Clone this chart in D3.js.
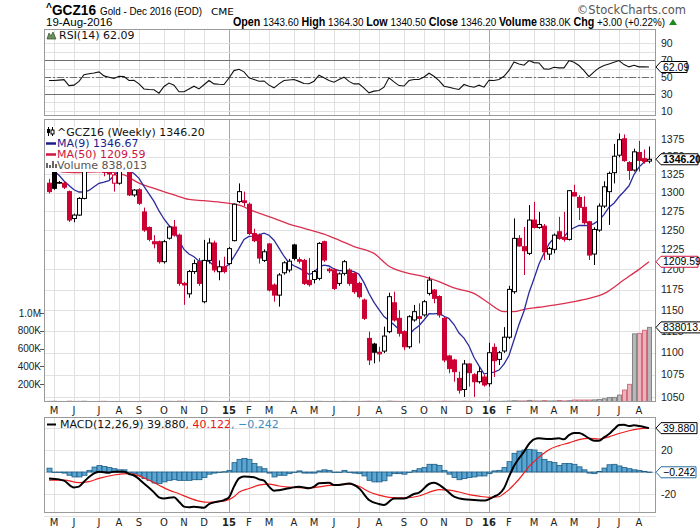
<!DOCTYPE html>
<html><head><meta charset="utf-8">
<script src="https://cdn.jsdelivr.net/npm/d3@7/dist/d3.min.js"></script>
<style>
html,body{margin:0;padding:0;background:#fff;}
svg{display:block;}
</style></head>
<body>
<svg id="chart" width="700" height="530"></svg>
<script>
// ---------------- DATA ----------------
const startWeek = "2014-04-28"; // first weekly bar (Monday)
const opens = [
1313,1329,1313,1313,1301.5,1265.5,1270,1292.3,1336,1342,
1346,1331,1332,1313,1313,1333,1330,1297,1304,1274.2,
1253.7,1235.2,1235.2,1209.7,1239.7,1254.3,1243.7,1182.6,1169.8,1197.3,
1209.7,1160.2,1211.3,1233.5,1197.1,1203.3,1207.3,1236.6,1288,1289,
1284.5,1245.8,1243.7,1211.3,1232.3,1180.6,1168.2,1195.8,1199.3,1231,
1212.3,1211.3,1186.4,1187.4,1188.8,1235.2,1200.3,1199.2,1182.6,1195,
1199.2,1195,1182.6,1162.2,1116.6,1110,1100.6,1101.9,1124.5,1158.9,
1140.2,1124.5,1106.9,1138.3,1142.2,1144.3,1170.3,1174.4,1166.5,1140.2,
1096.3,1091.7,1071,1058.6,1087.2,1075,1067.2,1072.5,1065,1106.2,
1092.4,1102,1118,1172.4,1239.5,1228.8,1220.2,1263.4,1253.7,1255.4,
1219.3,1225.4,1248.1,1240.7,1238.2,1300.1,1293.6,1280.3,1261.2,1219.4,
1250.3,1282,1301.5,1327.5,1352,1375.3,1341.6,1331.1,1355.8,1347,
1343.6];
const highs = [
1319,1330,1316,1315,1303,1272,1294,1336,1348,1352,
1358,1336,1333,1327,1333,1337,1332,1305,1306,1280,
1255,1243.7,1236.6,1237.6,1256,1263.5,1245.7,1184.5,1199.3,1212.3,
1214.3,1237.6,1239.7,1236.6,1211.3,1216,1228.4,1285.5,1312.7,1301.5,
1286.7,1252,1245.8,1225.4,1233.5,1182.6,1195.4,1210.3,1213.3,1232.5,
1215.3,1213.3,1214.3,1199.3,1234.6,1236.6,1202.3,1201.3,1196.3,1211.8,
1201.3,1196.4,1184.5,1164.1,1124.5,1111.5,1106.9,1130.4,1171.1,1172.4,
1150.1,1126.1,1144,1156.3,1158.3,1162.3,1190.9,1175.7,1168,1142,
1097.7,1093.1,1078.5,1091.7,1088.1,1076.8,1083.6,1075.2,1111.6,1110.8,
1102.1,1129.8,1179.6,1265.6,1243.7,1254.3,1283.3,1287.8,1274.3,1258.2,
1228.5,1245.8,1267.7,1274.3,1303.6,1310.8,1296.6,1295.2,1262.4,1254,
1285.6,1315.7,1329,1368,1383,1381.6,1343.5,1361.2,1372.4,1360,
1364.3];
const lows = [
1299,1304,1312,1305,1261,1260.5,1269,1291,1335,1337,
1338,1322.5,1316,1301.5,1311,1329,1295.5,1294.5,1283.5,1248,
1235.7,1226.6,1207.3,1207.3,1238,1241.7,1179.6,1156.4,1165,1194.4,
1179.6,1158.3,1207.3,1196.3,1186.5,1195,1205.3,1235.6,1286,1281.5,
1243.7,1234.6,1207.3,1209.3,1172.8,1160.2,1154.2,1193.4,1196.3,1211.3,
1207.3,1180.6,1178.6,1182.6,1186.4,1209.3,1195.4,1174.4,1179.6,1192.4,
1179.6,1169.8,1164.1,1138.3,1085.9,1087.9,1089.8,1099.6,1122.6,1136.4,
1118.7,1103,1104.7,1136.3,1110.8,1142.2,1167.8,1158.3,1141.1,1089.2,
1076.6,1067.2,1054,1050.4,1061.8,1050.4,1065.2,1061.8,1061.8,1072.5,
1086,1099.8,1116,1169.8,1228.8,1193,1218.1,1252.4,1252,1211.8,
1211.8,1220.3,1237.7,1235.2,1236.7,1294.8,1263.4,1257.4,1211.8,1205.5,
1248,1279.4,1257,1312.7,1349,1342.7,1317.5,1329,1329,1340,
1340.5];
const closes = [
1301.5,1306,1314,1307.5,1263.5,1270,1292.3,1331,1342,1346,
1350,1328,1325.7,1324.3,1331,1331.5,1297,1303.6,1285.7,1250.3,
1238.2,1232.5,1209.7,1235.2,1254.3,1243.7,1182.6,1180.6,1197.3,1207.3,
1182.6,1211.3,1233.5,1199.3,1203.3,1197.3,1226.3,1284.5,1301.5,1286.7,
1245.8,1236.6,1214.3,1222.3,1174.4,1168.2,1193,1208.3,1210.3,1213.9,
1210.3,1182.6,1181,1197.3,1233,1211.8,1198.3,1176.4,1194.4,1209.7,
1182.6,1172.4,1166.3,1140.2,1091.7,1100.6,1098.7,1119.3,1166.3,1138.2,
1122.6,1106.9,1142.2,1148.2,1140.2,1160.2,1186.7,1164.3,1144.3,1091.7,
1081.9,1078.5,1057.8,1087.2,1077.3,1067.2,1078.5,1063.6,1100,1091,
1100,1118,1175.2,1239.5,1229.7,1223.6,1263.4,1253.7,1257.6,1222.3,
1226.6,1243.7,1239.5,1238.2,1302.8,1295.6,1280.3,1260,1218.1,1251.1,
1282,1308.1,1326.5,1350.5,1374,1344.3,1330.5,1356.7,1344.6,1343.2,
1346.2];
const volumes = [
4000,5200,3100,2800,6100,3500,4200,5600,3000,2600,
3900,4800,2500,3100,2900,0,3300,2700,3600,5100,
4400,3800,4100,3900,4500,3700,6200,4800,3900,3500,
4100,5200,4300,3600,2400,2100,3900,5400,4600,3300,
5000,3800,3500,3100,4800,4200,4400,3600,3000,3700,
2900,3900,3200,3500,4600,3400,3000,3800,3300,4100,
3700,3300,3500,4500,6000,4200,3600,4400,6800,5200,
4100,3700,4600,3900,3700,4200,5100,4000,4800,6500,
5300,4700,4500,6200,5000,4400,3300,3600,6100,5400,
4500,5600,7800,11000,9000,8800,15000,9500,8300,13000,
8700,9300,14000,9000,12000,19000,19000,19500,19000,21000,
25000,34000,48000,49000,75000,132000,196000,765000,770000,805000,
838013];
// MA(9) values for the first 8 weeks (need earlier history)
const ma9Head = [1333,1330,1324,1316,1310,1304,1301,1301];
// MA(50): [week index, value]
const ma50 = [[0,1331],[5,1327.5],[11,1329],[15,1324.5],[18,1313],[21,1306],[25,1297],[28,1291],
[31,1289.2],[35,1286.5],[38,1283.3],[41,1275],[45,1265.6],[48,1258.1],[51,1252.5],[55,1245],
[58,1237.3],[61,1229],[65,1220.2],[68,1204],[71,1196.5],[75,1190.9],[78,1184.7],[81,1177],
[85,1170.3],[88,1158.3],[91,1148.2],[93,1148.2],[95,1151],[98,1153.5],[101,1156],[105,1160.2],
[108,1164.2],[111,1170],[115,1187],[118,1200],[120,1209.59]];
const rsi = [
46,46,46.5,47,40,40.5,45,53,54,55,
56.3,51.5,50,48.4,51,50.7,46,46.4,42.1,36,
35.4,35,31,39,43,40.5,32.6,32.6,36,39.3,
36,41,46,42,41.5,41.3,49,57.8,59.4,56.3,
49.2,47.2,45.2,45.5,40.5,37.3,42,46,46.6,47.2,
45,42.5,42.1,45.2,52.3,49.2,46,44,47.2,50,
45,42,42,37,31.4,33.4,34.2,38.1,49.2,44.4,
40,39.5,46,47.2,47.2,50.3,54.7,51.1,46,39.3,
38,36.5,35.4,41.3,39.3,38.1,40.5,38.1,46.4,46,
47.2,51.1,58,68,65.7,64.2,69.7,67.3,66.9,59.8,
59.4,61.8,61,61,69.7,67.7,63.8,57.8,50.7,56.3,
61,63.8,65.7,67.7,69.7,64.9,62.2,64.2,62.2,62.2,
62.09];
const macdLine = [[0,-5.8],[2,-6.7],[3,-7.9],[5,-14],[6,-13.3],[7,-8.8],[9,-1.2],[10,0.3],[12,-0.6],
[13,0.3],[15,0.3],[16,-1.8],[17,-3.2],[19,-10.5],[21,-18.5],[22,-23],[23,-24],[25,-23],[26,-27],
[27,-31.5],[28,-32.1],[29,-31.5],[31,-32.4],[32,-29.1],[33,-27.6],[35,-25.5],[36,-23],[37,-13.3],
[38,-5.8],[39,-4.2],[41,-4.8],[42,-6.7],[43,-7.9],[44,-13.3],[45,-17],[46,-16.5],[48,-14.8],
[50,-13.3],[52,-14.8],[53,-13.3],[54,-10.3],[56,-9.7],[57,-11.8],[58,-11.8],[60,-10.5],[62,-14.8],
[64,-25.4],[66,-29.1],[67,-30],[69,-24],[71,-24],[73,-20],[74,-18.8],[76,-10.9],[77,-9.7],
[79,-14.8],[81,-22.4],[83,-24.8],[85,-25.4],[87,-26],[89,-22.4],[90,-20],[91,-14.8],[92,-4.2],
[93,5.5],[94,12.4],[95,18.5],[96,25.5],[97,29.7],[98,30.6],[100,30],[102,30.6],[103,29.7],
[104,33.6],[105,35.5],[106,35.5],[107,33.5],[108,30.6],[109,28.5],[110,28.5],[111,31.5],
[112,34.5],[113,38.8],[114,42.7],[115,43],[116,41.8],[117,42.4],[118,41.8],[120,39.88]];
const signalLine = [[0,-7.3],[3,-7.3],[6,-9.6],[8,-8.8],[10,-5.8],[13,-2.7],[16,-1.4],[18,-3.5],
[20,-7.5],[22,-12],[24,-16.5],[26,-19.8],[28,-23.5],[30,-26.4],[32,-27.5],[35,-26.5],[37,-22.5],
[38,-18.5],[40,-15],[42,-12],[44,-11],[46,-12.7],[48,-13.8],[52,-14.5],[56,-12.2],[60,-11],
[62,-13],[64,-17.9],[66,-21],[68,-23],[71,-23.5],[74,-21.8],[76,-18.5],[78,-16],[80,-16.5],
[82,-18.2],[84,-20.5],[86,-22],[88,-23],[90,-22.5],[91,-19.5],[92,-16],[93,-11.5],[94,-6.6],
[96,4.9],[98,13.5],[100,20.3],[102,24],[104,26.5],[106,29.5],[108,30.6],[110,30],[112,32],
[114,35],[116,37.5],[118,39.2],[120,40.122]];
const macdHist = [
3.5,-0.5,-0.5,-1,-3,-4.5,-4.5,-3,1.5,4.5,
6,5,4,3,2,2,0,-1.5,-3,-6,
-7.6,-10,-10.6,-9,-7.6,-7,-7.6,-7.6,-7.6,-7,
-7,-5,-2,-1,0,0.3,1.5,8.5,11.5,12.4,
11.5,7.7,4.7,3,-1,-4.5,-3,-3,-1.5,0,
1,-1,-1,-1,1,2,1.5,0,0,1.5,
0,-1,-1.5,-3.6,-7.6,-9,-9,-8,-3.6,-1.5,
-1.5,-2,0,1.5,3,4,7,7,6,1.5,
-2,-5,-7,-6,-5,-4.5,-3.6,-3.6,-1.5,1,
1.5,4,9.4,17,19,20,20.6,20,17.6,11.5,
9.4,8.5,6,7.7,7.7,7,4.7,2,-1,-1.5,
0.5,3.6,6.6,7,5.5,4,3,2,1.5,0.5,
-0.242];
const monthLetters = ["J","F","M","A","M","J","J","A","S","O","N","D"];
const priceTicks = [1050,1075,1100,1125,1150,1175,1200,1225,1250,1275,1300,1325,1350,1375];
const volTicks = [200000,400000,600000,800000,1000000];
const volTickLabels = ["200K","400K","600K","800K","1.0M"];
const rsiTicks = [10,20,30,40,50,60,70,80,90];
const rsiLabels = [10,30,50,70,90];
const macdTicks = [-40,-20,0,20,40];
const macdLabels = [-20,20];

// ---------------- LAYOUT ----------------
const svg = d3.select("#chart");
const FV = '"DejaVu Sans", Verdana, sans-serif';
const FA = '"Liberation Sans", Arial, sans-serif';
const RED = "#cc0033";
const n = closes.length;
const t0 = d3.timeParse("%Y-%m-%d")(startWeek);
const dates = d3.range(n).map(i => d3.timeDay.offset(t0, 7 * i));

const L = 44, R = 656;
const rsiP = [29, 116], mainP = [119, 402], macdP = [417, 513];

const x = d3.scaleLinear().domain([-1, 121.4]).range([L, R]);
const X = i => Math.round(x(i)) + 0.5;
const yP = d3.scaleLog().domain([1050, 1375]).range([397.3, 139]);
const yV = d3.scaleLinear().domain([0, 1e6]).range([401.75, 313]);
const yR = d3.scaleLinear().domain([30, 70]).range([94, 60.33]);
const yM = d3.scaleLinear().domain([-20, 20]).range([494, 450]);

const monthStarts = [];
for (let i = 1; i < n; i++) if (dates[i].getMonth() !== dates[i - 1].getMonth()) monthStarts.push(i);

const defs = svg.append("defs");
function clip(id, top, bot, right) {
  defs.append("clipPath").attr("id", id).append("rect")
    .attr("x", L).attr("y", top).attr("width", (right || R) - L).attr("height", bot - top);
  return "url(#" + id + ")";
}
const clipR = clip("cr", rsiP[0], rsiP[1]);
const clipM = clip("cm", mainP[0], mainP[1]);
const clipD = clip("cd", macdP[0], macdP[1]);

function vgrid(g, top, bot) {
  monthStarts.forEach(i => {
    const yr = dates[i].getMonth() === 0;
    g.append("line").attr("x1", X(i)).attr("x2", X(i)).attr("y1", top).attr("y2", bot)
      .attr("stroke", yr ? "#a8a8a8" : "#e1e1e1").attr("stroke-width", 1);
  });
}
function hgrid(g, vals, sc, color) {
  vals.forEach(v => {
    const yy = Math.round(sc(v)) + 0.5;
    g.append("line").attr("x1", L).attr("x2", R).attr("y1", yy).attr("y2", yy)
      .attr("stroke", color || "#e1e1e1");
  });
}
function frame(top, bot) {
  svg.append("rect").attr("x", L + 0.5).attr("y", top + 0.5).attr("width", R - L - 1)
    .attr("height", bot - top - 1).attr("fill", "none").attr("stroke", "#9a9a9a");
}
function tag(yc, label, stroke, bold, tcol, xr) {
  const g = svg.append("g");
  const t = g.append("text").attr("x", 663).attr("y", yc).attr("dy", "0.35em")
    .attr("font-family", FA).attr("font-size", 10.5).attr("font-weight", bold ? "bold" : "normal")
    .attr("fill", tcol || "#000").text(label);
  const w = t.node().getComputedTextLength();
  const x2 = xr || (663 + w + 2);
  g.insert("path", "text").attr("d",
    `M${R},${yc}L${R + 5},${yc - 5.5}H${x2}V${yc + 5.5}H${R + 5}Z`)
    .attr("fill", "#fff").attr("stroke", stroke).attr("stroke-width", 1);
}

// ---------------- HEADER ----------------
svg.append("text").attr("x", 46).attr("y", 11).attr("font-family", FA).attr("font-size", 10)
  .attr("font-weight", "bold").text("^");
svg.append("text").attr("x", 52).attr("y", 15).attr("font-family", FA).attr("font-size", 15)
  .attr("font-weight", "bold").attr("textLength", 44).attr("lengthAdjust", "spacingAndGlyphs").text("GCZ16");
svg.append("text").attr("x", 100).attr("y", 15).attr("font-family", FA).attr("font-size", 10)
  .attr("textLength", 102).attr("lengthAdjust", "spacingAndGlyphs").text("Gold - Dec 2016 (EOD)");
svg.append("text").attr("x", 211).attr("y", 15).attr("font-family", FV).attr("font-size", 9)
  .attr("textLength", 23).attr("lengthAdjust", "spacingAndGlyphs").text("CME");
svg.append("text").attr("x", 686).attr("y", 14).attr("text-anchor", "end").attr("font-family", FV)
  .attr("font-size", 11.5).attr("fill", "#555").text("©StockCharts.com");
svg.append("text").attr("x", 46).attr("y", 26).attr("font-family", FA).attr("font-size", 11.5)
  .text("19-Aug-2016");
const hdr = svg.append("text").attr("x", 233).attr("y", 26).attr("font-family", FA).attr("font-size", 11.5)
  .attr("textLength", 432).attr("lengthAdjust", "spacingAndGlyphs");
[["Open", 1], [" 1343.60 ", 0], ["High", 1], [" 1364.30 ", 0], ["Low", 1], [" 1340.50 ", 0],
 ["Close", 1], [" 1346.20 ", 0], ["Volume", 1], [" 838.0K ", 0], ["Chg", 1], [" +3.00 (+0.22%)", 0]]
  .forEach(([s, b]) => hdr.append("tspan").attr("font-weight", b ? "bold" : "normal")
    .attr("font-size", b ? 12.5 : 11.5).text(s));
svg.append("path").attr("d", "M669,25L673,19L677,25Z").attr("fill", "#1a8a1a");

// ---------------- RSI PANEL ----------------
const gR = svg.append("g");
vgrid(gR, rsiP[0], rsiP[1]);
hgrid(gR, rsiTicks, yR);
[70, 30].forEach(v => gR.append("line").attr("x1", L).attr("x2", R)
  .attr("y1", Math.round(yR(v)) + 0.5).attr("y2", Math.round(yR(v)) + 0.5).attr("stroke", "#707070"));
gR.append("line").attr("x1", L).attr("x2", R).attr("y1", Math.round(yR(50)) + 0.5)
  .attr("y2", Math.round(yR(50)) + 0.5).attr("stroke", "#707070").attr("stroke-dasharray", "7,2,2,2");
svg.append("g").attr("clip-path", clipR).append("path").datum(rsi)
  .attr("d", d3.line().x((d, i) => x(i)).y(d => yR(d)))
  .attr("fill", "none").attr("stroke", "#111").attr("stroke-width", 1.1);
frame(rsiP[0], rsiP[1]);
const rsiLab = svg.append("g");
rsiLabels.forEach(v => rsiLab.append("text").attr("x", 661).attr("y", yR(v)).attr("dy", "0.35em")
  .attr("font-family", FA).attr("font-size", 10.5).attr("fill", "#222").text(v));
// legend
svg.append("path").attr("d", "M47,39L49,33L51,36L53,32L56,39Z").attr("fill", "#6b8f5e").attr("stroke", "#334d2a").attr("stroke-width", 0.7);
svg.append("text").attr("x", 59).attr("y", 39).attr("font-family", FV).attr("font-size", 11)
  .attr("fill", "#111").text("RSI(14) " + d3.format(".2f")(rsi[n - 1]));
tag(yR(rsi[n - 1]), d3.format(".2f")(rsi[n - 1]), "#000", false, "#000", 687);

// ---------------- MAIN PANEL ----------------
const gM = svg.append("g");
vgrid(gM, mainP[0], mainP[1]);
hgrid(gM, priceTicks, yP);
const gMc = svg.append("g").attr("clip-path", clipM);
// volume
gMc.selectAll("rect.vol").data(volumes).join("rect")
  .attr("x", (d, i) => X(i) - 2).attr("width", 4)
  .attr("y", d => yV(d)).attr("height", d => Math.max(0, yV(0) - yV(d)))
  .attr("fill", (d, i) => (i > 0 && closes[i] < closes[i - 1]) ? "#ebb3bb" : "#b8b8b8")
  .attr("stroke", (d, i) => (i > 0 && closes[i] < closes[i - 1]) ? "#d36f80" : "#858585")
  .attr("stroke-width", 1);
// MA lines
const ma9 = closes.map((c, i) => i < 8 ? ma9Head[i] : d3.mean(closes.slice(i - 8, i + 1)));
gMc.append("path").datum(ma50)
  .attr("d", d3.line().x(d => x(d[0])).y(d => yP(d[1])).curve(d3.curveMonotoneX))
  .attr("fill", "none").attr("stroke", "#d9304f").attr("stroke-width", 1.3);
gMc.append("path").datum(ma9)
  .attr("d", d3.line().x((d, i) => x(i)).y(d => yP(d)))
  .attr("fill", "none").attr("stroke", "#2b2b9c").attr("stroke-width", 1.3);
// candles
const candles = gMc.selectAll("g.c").data(closes).join("g");
candles.each(function (c, i) {
  const g = d3.select(this);
  const prev = i > 0 ? closes[i - 1] : opens[i];
  const col = c >= prev ? "#000" : RED;
  const hollow = c >= opens[i];
  const cx = X(i);
  g.append("line").attr("x1", cx).attr("x2", cx).attr("y1", yP(highs[i])).attr("y2", yP(lows[i]))
    .attr("stroke", col).attr("stroke-width", 1);
  const top = yP(Math.max(opens[i], c)), bot = yP(Math.min(opens[i], c));
  g.append("rect").attr("x", cx - 2).attr("width", 4)
    .attr("y", top).attr("height", Math.max(0.6, bot - top))
    .attr("fill", hollow ? "#fff" : col).attr("stroke", col).attr("stroke-width", 1);
});
frame(mainP[0], mainP[1]);
// right price axis
priceTicks.forEach(v => svg.append("text").attr("x", 661).attr("y", yP(v)).attr("dy", "0.35em")
  .attr("font-family", FA).attr("font-size", 10.5).attr("fill", "#222").text(v));
// left volume axis
volTicks.forEach((v, j) => {
  svg.append("line").attr("x1", L - 4).attr("x2", L).attr("y1", Math.round(yV(v)) + 0.5)
    .attr("y2", Math.round(yV(v)) + 0.5).attr("stroke", "#555");
  svg.append("text").attr("x", L - 3).attr("y", yV(v)).attr("dy", "0.35em").attr("text-anchor", "end")
    .attr("font-family", FA).attr("font-size", 10).attr("fill", "#222").text(volTickLabels[j]);
});
// legend (white backgrounds)
const leg = svg.append("g");
function legLine(yb, str, col) {
  const t = leg.append("text").attr("x", 57).attr("y", yb).attr("font-family", FV).attr("font-size", 11)
    .attr("fill", col).text(str);
  const bb = t.node().getBBox();
  leg.insert("rect", "text").attr("x", 45).attr("y", bb.y + 1).attr("width", bb.x + bb.width - 45 + 1)
    .attr("height", bb.height - 1).attr("fill", "#fff");
}
legLine(136, "^GCZ16 (Weekly) " + d3.format(".2f")(closes[n - 1]), "#111");
legLine(147, "MA(9) 1346.67", "#1c1c8c");
legLine(158, "MA(50) " + d3.format(".2f")(ma50[ma50.length - 1][1]), "#cc1540");
legLine(169, "Volume " + d3.format(",")(volumes[n - 1]), "#555");
// legend icons
leg.append("line").attr("x1", 48.5).attr("x2", 48.5).attr("y1", 127).attr("y2", 136).attr("stroke", "#000");
leg.append("rect").attr("x", 47).attr("y", 129).attr("width", 3).attr("height", 4).attr("fill", "#000");
leg.append("line").attr("x1", 52.5).attr("x2", 52.5).attr("y1", 127).attr("y2", 136).attr("stroke", "#000");
leg.append("rect").attr("x", 51).attr("y", 130).attr("width", 3).attr("height", 4).attr("fill", "#fff").attr("stroke", "#000");
leg.append("line").attr("x1", 46).attr("x2", 56).attr("y1", 143.5).attr("y2", 143.5).attr("stroke", "#1c1c8c").attr("stroke-width", 2.5);
leg.append("line").attr("x1", 46).attr("x2", 56).attr("y1", 154.5).attr("y2", 154.5).attr("stroke", "#cc1540").attr("stroke-width", 2.5);
[[46, 5], [49, 3], [52, 7], [55, 4]].forEach(([bx, h]) => leg.append("rect").attr("x", bx).attr("y", 168 - h)
  .attr("width", 2).attr("height", h).attr("fill", "#666"));
// value tags
tag(yV(volumes[n - 1]), d3.format(".1f")(volumes[n - 1]), "#000", false, "#000", 702);
tag(yP(ma50[ma50.length - 1][1]), d3.format(".2f")(ma50[ma50.length - 1][1]), "#cc1540", false, "#000", 698);
tag(yP(closes[n - 1]), d3.format(".2f")(closes[n - 1]), "#000", true, "#000", 698);

// x-axis labels
function xLabels(yb) {
  monthStarts.forEach(i => {
    const m = dates[i].getMonth();
    svg.append("text").attr("x", x(i)).attr("y", yb).attr("text-anchor", "middle")
      .attr("font-family", FV).attr("font-size", 10).attr("font-weight", m === 0 ? "bold" : "normal")
      .attr("fill", "#222").text(m === 0 ? d3.timeFormat("%y")(dates[i]) : monthLetters[m]);
  });
}
xLabels(414);

// ---------------- MACD PANEL ----------------
const gD = svg.append("g");
vgrid(gD, macdP[0], macdP[1]);
hgrid(gD, macdTicks, yM);
const gDc = svg.append("g").attr("clip-path", clipD);
gDc.selectAll("rect.h").data(macdHist).join("rect")
  .attr("x", (d, i) => X(i) - 2.5).attr("width", 5)
  .attr("y", d => Math.min(yM(d), yM(0))).attr("height", d => Math.max(0.5, Math.abs(yM(d) - yM(0))))
  .attr("fill", "#5ba5d2").attr("stroke", "#1d5d85").attr("stroke-width", 0.8);
gDc.append("path").datum(signalLine)
  .attr("d", d3.line().x(d => x(d[0])).y(d => yM(d[1])).curve(d3.curveMonotoneX))
  .attr("fill", "none").attr("stroke", "#ee1c1c").attr("stroke-width", 1.2);
gDc.append("path").datum(macdLine)
  .attr("d", d3.line().x(d => x(d[0])).y(d => yM(d[1])).curve(d3.curveMonotoneX))
  .attr("fill", "none").attr("stroke", "#000").attr("stroke-width", 2);
frame(macdP[0], macdP[1]);
macdLabels.forEach(v => svg.append("text").attr("x", 661).attr("y", yM(v)).attr("dy", "0.35em")
  .attr("font-family", FA).attr("font-size", 10.5).attr("fill", "#222").text(v));
svg.append("line").attr("x1", 47).attr("x2", 56).attr("y1", 424.5).attr("y2", 424.5).attr("stroke", "#000").attr("stroke-width", 2);
const ml = svg.append("text").attr("x", 60).attr("y", 428).attr("font-family", FV).attr("font-size", 11);
ml.append("tspan").attr("fill", "#111").text("MACD(12,26,9) " + d3.format(".3f")(macdLine[macdLine.length - 1][1]));
ml.append("tspan").attr("fill", "#e81818").text(", " + d3.format(".3f")(signalLine[signalLine.length - 1][1]));
ml.append("tspan").attr("fill", "#3a8fc4").text(", " + d3.format(".3f")(macdHist[n - 1]));
tag(yM(macdLine[macdLine.length - 1][1]), d3.format(".3f")(macdLine[macdLine.length - 1][1]), "#000", false, "#000", 697);
tag(yM(macdHist[n - 1]), d3.format(".3f")(macdHist[n - 1]), "#2a6f9e", false, "#000", 696);
xLabels(526);
</script>
</body></html>
